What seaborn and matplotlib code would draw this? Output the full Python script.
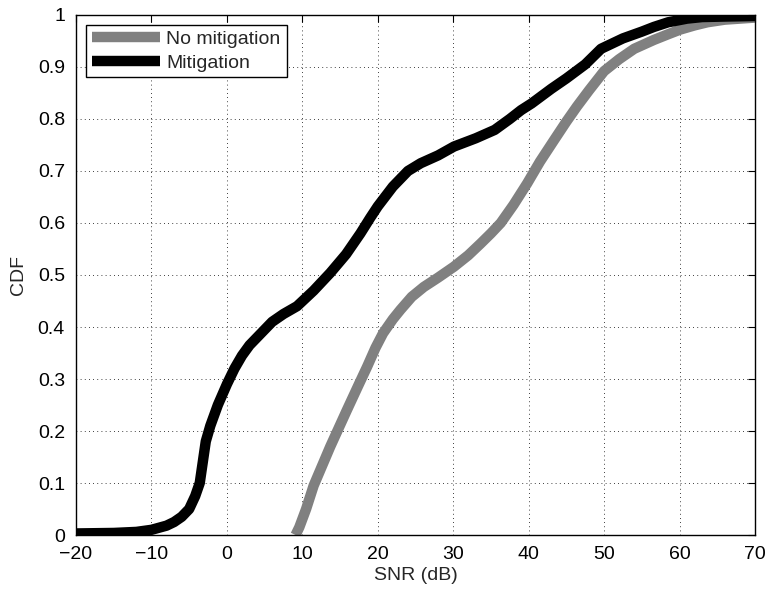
import numpy as np
import pandas as pd
import matplotlib
matplotlib.use("Agg")
import matplotlib.pyplot as plt
import seaborn as sns

# Data
mit_x = [-20, -15, -12, -10, -8, -7, -6, -5, -4.2, -3.6, -3.2, -2.8, -2.2, -1.2, 0, 1, 2, 3, 4, 5, 6, 7.5, 9.3,
         11.5, 13.7, 15.8, 17.7, 19, 20, 22, 24, 25.7, 28, 30.1, 33, 35.5, 37.5, 39, 40.4, 43, 45, 47.5, 49.6,
         52.5, 55, 56.6, 58.5, 61, 63, 66, 70]
mit_y = [0.003, 0.004, 0.006, 0.01, 0.018, 0.025, 0.035, 0.05, 0.075, 0.1, 0.14, 0.18, 0.21, 0.25, 0.29, 0.32,
         0.345, 0.365, 0.38, 0.395, 0.41, 0.425, 0.44, 0.47, 0.504, 0.54, 0.58, 0.61, 0.632, 0.67, 0.7, 0.715,
         0.73, 0.747, 0.763, 0.779, 0.8, 0.817, 0.83, 0.858, 0.878, 0.905, 0.935, 0.955, 0.968, 0.977, 0.986,
         0.993, 0.996, 0.997, 0.998]
nomit_x = [9.1, 9.6, 10.5, 11.5, 13.7, 15.9, 17.5, 18.6, 19.7, 20.7, 22, 23, 24.5, 26.1, 28, 30.1, 32, 33.6, 35,
           36.3, 38, 39.8, 41.5, 43.4, 45, 46.4, 48, 50, 52, 54, 56.6, 58.5, 60.1, 62, 63.7, 66, 70]
nomit_y = [0.0, 0.015, 0.05, 0.095, 0.17, 0.24, 0.29, 0.324, 0.36, 0.388, 0.415, 0.433, 0.458, 0.477, 0.495,
           0.516, 0.538, 0.56, 0.58, 0.6, 0.635, 0.676, 0.718, 0.76, 0.795, 0.824, 0.855, 0.892, 0.915, 0.935,
           0.952, 0.963, 0.972, 0.98, 0.986, 0.991, 0.995]
series_names = ["No mitigation", "Mitigation"]

df = pd.concat([
    pd.DataFrame({"SNR": nomit_x, "CDF": nomit_y, "series": series_names[0]}),
    pd.DataFrame({"SNR": mit_x, "CDF": mit_y, "series": series_names[1]}),
])

sns.set_style("white")
plt.rcParams["font.family"] = ["Liberation Sans", "DejaVu Sans"]

fig = plt.figure(figsize=(7.68, 5.9), dpi=100)
ax = fig.add_axes([0.099, 0.0932, 0.884, 0.8814])

sns.lineplot(data=df, x="SNR", y="CDF", hue="series", hue_order=series_names,
             palette={"No mitigation": "#808080", "Mitigation": "#000000"},
             linewidth=7.5, sort=False, estimator=None, ax=ax,
             solid_joinstyle="round", solid_capstyle="butt")

ax.set_xlim(-20, 70)
ax.set_ylim(0, 1)
ax.set_xticks(np.arange(-20, 71, 10))
ax.set_yticks(np.round(np.arange(0, 1.01, 0.1), 1))
ax.set_xticklabels([("\u2212" + str(-v)) if v < 0 else str(v) for v in range(-20, 71, 10)])
ax.set_yticklabels(["0"] + [f"{v:.1f}" for v in np.arange(0.1, 0.95, 0.1)] + ["1"])
ax.tick_params(direction="in", length=5, width=0.8, top=True, right=True,
               labelsize=14, colors="black", pad=8)
ax.grid(True, linestyle=(0, (1, 4)), color="black", linewidth=0.6)
for s in ax.spines.values():
    s.set_visible(True)
    s.set_color("black")
    s.set_linewidth(1.0)
ax.set_xlabel("SNR (dB)", fontsize=14, labelpad=3)
ax.set_ylabel("CDF", fontsize=14, labelpad=8)

leg = ax.legend(loc="upper left", bbox_to_anchor=(0.0, 1.0), fontsize=14,
                frameon=True, fancybox=False, handlelength=3.5,
                borderaxespad=0.5, borderpad=0.3, labelspacing=0.3, handletextpad=0.35)
leg.get_frame().set_edgecolor("black")
leg.get_frame().set_linewidth(1.0)
leg.get_frame().set_alpha(1)
leg.set_title(None)
for line in leg.get_lines():
    line.set_linewidth(7.5)

fig.savefig("out.png", dpi=100)
